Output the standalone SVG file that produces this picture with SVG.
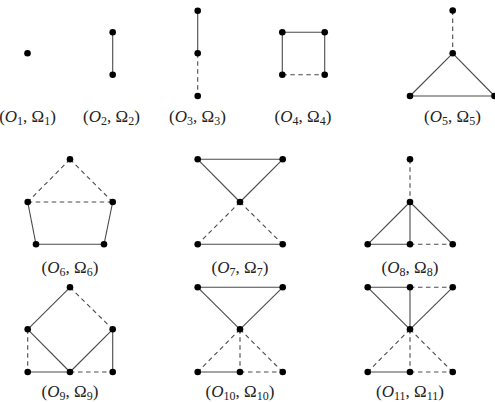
<svg xmlns="http://www.w3.org/2000/svg" width="495" height="402" viewBox="0 0 495 402">
<style>
.e{stroke:#4a4a4a;stroke-width:1.1;fill:none}
.d{stroke-dasharray:4.5,3.5}
.v{fill:#000}
.lab{font-family:"Liberation Serif","Times New Roman",serif;font-size:17px;fill:#222;text-anchor:middle}
.it{font-style:italic}
.sub{font-size:12px}
</style>
<rect width="495" height="402" fill="#fff"/>
<g id="connectors">
<line class="e" x1="112.7" y1="32.3" x2="112.7" y2="74.7"/>
<line class="e" x1="197.7" y1="10.7" x2="197.7" y2="53.3"/>
<line class="e d" x1="197.7" y1="53.3" x2="197.7" y2="96"/>
<line class="e" x1="282.3" y1="32.3" x2="324.7" y2="32.3"/>
<line class="e" x1="282.3" y1="32.3" x2="282.3" y2="74.7"/>
<line class="e" x1="324.7" y1="32.3" x2="324.7" y2="74.7"/>
<line class="e d" x1="282.3" y1="74.7" x2="324.7" y2="74.7"/>
<line class="e d" x1="452.7" y1="10.5" x2="452.7" y2="53.3"/>
<line class="e" x1="452.7" y1="53.3" x2="410" y2="96"/>
<line class="e" x1="452.7" y1="53.3" x2="494.5" y2="96"/>
<line class="e" x1="410" y1="96" x2="494.5" y2="96"/>
<line class="e d" x1="70" y1="159.3" x2="27.7" y2="202"/>
<line class="e d" x1="70" y1="159.3" x2="112.7" y2="202"/>
<line class="e d" x1="27.7" y1="202" x2="112.7" y2="202"/>
<line class="e" x1="27.7" y1="202" x2="36" y2="244.3"/>
<line class="e" x1="112.7" y1="202" x2="104" y2="244.3"/>
<line class="e" x1="36" y1="244.3" x2="104" y2="244.3"/>
<line class="e" x1="197.7" y1="159.3" x2="282.7" y2="159.3"/>
<line class="e" x1="197.7" y1="159.3" x2="240" y2="202"/>
<line class="e" x1="282.7" y1="159.3" x2="240" y2="202"/>
<line class="e d" x1="240" y1="202" x2="197.7" y2="244.3"/>
<line class="e d" x1="240" y1="202" x2="282.7" y2="244.3"/>
<line class="e" x1="197.7" y1="244.3" x2="282.7" y2="244.3"/>
<line class="e d" x1="410" y1="159.3" x2="410" y2="202"/>
<line class="e" x1="410" y1="202" x2="367.7" y2="244.3"/>
<line class="e" x1="410" y1="202" x2="410" y2="244.3"/>
<line class="e" x1="410" y1="202" x2="452.7" y2="244.3"/>
<line class="e" x1="367.7" y1="244.3" x2="410" y2="244.3"/>
<line class="e d" x1="410" y1="244.3" x2="452.7" y2="244.3"/>
<line class="e" x1="70" y1="287.3" x2="27.7" y2="329.3"/>
<line class="e d" x1="70" y1="287.3" x2="112.7" y2="329.3"/>
<line class="e" x1="27.7" y1="329.3" x2="70" y2="372"/>
<line class="e" x1="112.7" y1="329.3" x2="70" y2="372"/>
<line class="e d" x1="27.7" y1="329.3" x2="27.7" y2="372"/>
<line class="e" x1="112.7" y1="329.3" x2="112.7" y2="372"/>
<line class="e" x1="27.7" y1="372" x2="70" y2="372"/>
<line class="e d" x1="70" y1="372" x2="112.7" y2="372"/>
<line class="e" x1="197.7" y1="287.3" x2="282.7" y2="287.3"/>
<line class="e" x1="197.7" y1="287.3" x2="240" y2="329.3"/>
<line class="e" x1="282.7" y1="287.3" x2="240" y2="329.3"/>
<line class="e d" x1="240" y1="329.3" x2="197.7" y2="372"/>
<line class="e d" x1="240" y1="329.3" x2="240" y2="372"/>
<line class="e d" x1="240" y1="329.3" x2="282.7" y2="372"/>
<line class="e" x1="197.7" y1="372" x2="240" y2="372"/>
<line class="e d" x1="240" y1="372" x2="282.7" y2="372"/>
<line class="e" x1="367.7" y1="287.3" x2="410" y2="287.3"/>
<line class="e d" x1="410" y1="287.3" x2="452.7" y2="287.3"/>
<line class="e" x1="367.7" y1="287.3" x2="410" y2="329.3"/>
<line class="e" x1="410" y1="287.3" x2="410" y2="329.3"/>
<line class="e" x1="452.7" y1="287.3" x2="410" y2="329.3"/>
<line class="e d" x1="410" y1="329.3" x2="367.7" y2="372"/>
<line class="e d" x1="410" y1="329.3" x2="410" y2="372"/>
<line class="e d" x1="410" y1="329.3" x2="452.7" y2="372"/>
<line class="e" x1="367.7" y1="372" x2="410" y2="372"/>
<line class="e d" x1="410" y1="372" x2="452.7" y2="372"/>
</g>
<g id="G1">
<circle class="v" cx="27.5" cy="53.3" r="3.3"/>
<text class="lab" x="27.5" y="122"><tspan>(</tspan><tspan class="it">O</tspan><tspan class="sub" dy="3">1</tspan><tspan dy="-3">, Ω</tspan><tspan class="sub" dy="3">1</tspan><tspan dy="-3">)</tspan></text>
</g>
<g id="G2">
<circle class="v" cx="112.7" cy="32.3" r="3.3"/>
<circle class="v" cx="112.7" cy="74.7" r="3.3"/>
<text class="lab" x="111.5" y="122"><tspan>(</tspan><tspan class="it">O</tspan><tspan class="sub" dy="3">2</tspan><tspan dy="-3">, Ω</tspan><tspan class="sub" dy="3">2</tspan><tspan dy="-3">)</tspan></text>
</g>
<g id="G3">
<circle class="v" cx="197.7" cy="10.7" r="3.3"/>
<circle class="v" cx="197.7" cy="53.3" r="3.3"/>
<circle class="v" cx="197.7" cy="96" r="3.3"/>
<text class="lab" x="197.5" y="122"><tspan>(</tspan><tspan class="it">O</tspan><tspan class="sub" dy="3">3</tspan><tspan dy="-3">, Ω</tspan><tspan class="sub" dy="3">3</tspan><tspan dy="-3">)</tspan></text>
</g>
<g id="G4">
<circle class="v" cx="282.3" cy="32.3" r="3.3"/>
<circle class="v" cx="324.7" cy="32.3" r="3.3"/>
<circle class="v" cx="282.3" cy="74.7" r="3.3"/>
<circle class="v" cx="324.7" cy="74.7" r="3.3"/>
<text class="lab" x="303" y="122"><tspan>(</tspan><tspan class="it">O</tspan><tspan class="sub" dy="3">4</tspan><tspan dy="-3">, Ω</tspan><tspan class="sub" dy="3">4</tspan><tspan dy="-3">)</tspan></text>
</g>
<g id="G5">
<circle class="v" cx="452.7" cy="10.5" r="3.3"/>
<circle class="v" cx="452.7" cy="53.3" r="3.3"/>
<circle class="v" cx="410" cy="96" r="3.3"/>
<circle class="v" cx="494.5" cy="96" r="3.3"/>
<text class="lab" x="452.5" y="122"><tspan>(</tspan><tspan class="it">O</tspan><tspan class="sub" dy="3">5</tspan><tspan dy="-3">, Ω</tspan><tspan class="sub" dy="3">5</tspan><tspan dy="-3">)</tspan></text>
</g>
<g id="G6">
<circle class="v" cx="70" cy="159.3" r="3.3"/>
<circle class="v" cx="27.7" cy="202" r="3.3"/>
<circle class="v" cx="112.7" cy="202" r="3.3"/>
<circle class="v" cx="36" cy="244.3" r="3.3"/>
<circle class="v" cx="104" cy="244.3" r="3.3"/>
<text class="lab" x="70" y="272.5"><tspan>(</tspan><tspan class="it">O</tspan><tspan class="sub" dy="3">6</tspan><tspan dy="-3">, Ω</tspan><tspan class="sub" dy="3">6</tspan><tspan dy="-3">)</tspan></text>
</g>
<g id="G7">
<circle class="v" cx="197.7" cy="159.3" r="3.3"/>
<circle class="v" cx="282.7" cy="159.3" r="3.3"/>
<circle class="v" cx="240" cy="202" r="3.3"/>
<circle class="v" cx="197.7" cy="244.3" r="3.3"/>
<circle class="v" cx="282.7" cy="244.3" r="3.3"/>
<text class="lab" x="240" y="272.5"><tspan>(</tspan><tspan class="it">O</tspan><tspan class="sub" dy="3">7</tspan><tspan dy="-3">, Ω</tspan><tspan class="sub" dy="3">7</tspan><tspan dy="-3">)</tspan></text>
</g>
<g id="G8">
<circle class="v" cx="410" cy="159.3" r="3.3"/>
<circle class="v" cx="410" cy="202" r="3.3"/>
<circle class="v" cx="367.7" cy="244.3" r="3.3"/>
<circle class="v" cx="410" cy="244.3" r="3.3"/>
<circle class="v" cx="452.7" cy="244.3" r="3.3"/>
<text class="lab" x="410" y="272.5"><tspan>(</tspan><tspan class="it">O</tspan><tspan class="sub" dy="3">8</tspan><tspan dy="-3">, Ω</tspan><tspan class="sub" dy="3">8</tspan><tspan dy="-3">)</tspan></text>
</g>
<g id="G9">
<circle class="v" cx="70" cy="287.3" r="3.3"/>
<circle class="v" cx="27.7" cy="329.3" r="3.3"/>
<circle class="v" cx="112.7" cy="329.3" r="3.3"/>
<circle class="v" cx="27.7" cy="372" r="3.3"/>
<circle class="v" cx="70" cy="372" r="3.3"/>
<circle class="v" cx="112.7" cy="372" r="3.3"/>
<text class="lab" x="70" y="396.5"><tspan>(</tspan><tspan class="it">O</tspan><tspan class="sub" dy="3">9</tspan><tspan dy="-3">, Ω</tspan><tspan class="sub" dy="3">9</tspan><tspan dy="-3">)</tspan></text>
</g>
<g id="G10">
<circle class="v" cx="197.7" cy="287.3" r="3.3"/>
<circle class="v" cx="282.7" cy="287.3" r="3.3"/>
<circle class="v" cx="240" cy="329.3" r="3.3"/>
<circle class="v" cx="197.7" cy="372" r="3.3"/>
<circle class="v" cx="240" cy="372" r="3.3"/>
<circle class="v" cx="282.7" cy="372" r="3.3"/>
<text class="lab" x="240" y="396.5"><tspan>(</tspan><tspan class="it">O</tspan><tspan class="sub" dy="3">10</tspan><tspan dy="-3">, Ω</tspan><tspan class="sub" dy="3">10</tspan><tspan dy="-3">)</tspan></text>
</g>
<g id="G11">
<circle class="v" cx="367.7" cy="287.3" r="3.3"/>
<circle class="v" cx="410" cy="287.3" r="3.3"/>
<circle class="v" cx="452.7" cy="287.3" r="3.3"/>
<circle class="v" cx="410" cy="329.3" r="3.3"/>
<circle class="v" cx="367.7" cy="372" r="3.3"/>
<circle class="v" cx="410" cy="372" r="3.3"/>
<circle class="v" cx="452.7" cy="372" r="3.3"/>
<text class="lab" x="410" y="396.5"><tspan>(</tspan><tspan class="it">O</tspan><tspan class="sub" dy="3">11</tspan><tspan dy="-3">, Ω</tspan><tspan class="sub" dy="3">11</tspan><tspan dy="-3">)</tspan></text>
</g>
</svg>
